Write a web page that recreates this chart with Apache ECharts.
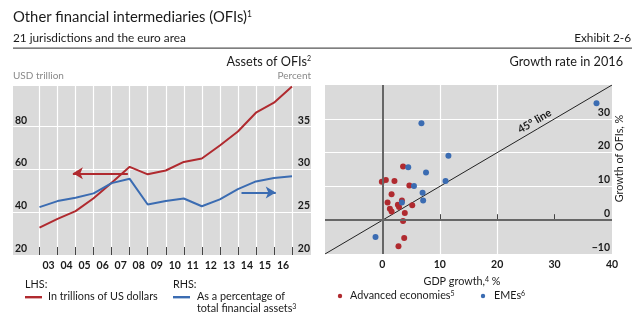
<!DOCTYPE html>
<html>
<head>
<meta charset="utf-8">
<script src="https://cdn.jsdelivr.net/npm/echarts@6/dist/echarts.min.js"></script>
<style>
  html, body { margin: 0; padding: 0; background: #fff; }
  #chart { width: 639px; height: 327px; }
</style>
</head>
<body>
<div id="chart"></div>
<script>
// Year-end observations 2002–2016; tick labels name the year between year-ends
const years = [2002, 2003, 2004, 2005, 2006, 2007, 2008, 2009, 2010, 2011, 2012, 2013, 2014, 2015, 2016];
const yearLabels = ['03', '04', '05', '06', '07', '08', '09', '10', '11', '12', '13', '14', '15', '16'];

// LHS: OFI assets, USD trillion
const ofiAssetsUsd = [32.8, 36.9, 40.5, 46.5, 53.8, 61.2, 57.7, 59.5, 63.5, 65.1, 71.2, 77.7, 86.5, 91.2, 98.8];
// RHS: OFI assets as a percentage of total financial assets
const ofiSharePct = [25.6, 26.3, 26.7, 27.2, 28.4, 28.9, 25.9, 26.3, 26.6, 25.7, 26.5, 27.7, 28.6, 29.0, 29.2];

// Growth rate in 2016: [GDP growth %, growth of OFIs %]
const advancedEconomies = [
  [3.6, 15.9], [-0.1, 11.4], [0.6, 11.9], [2.1, 11.6], [4.7, 10.3], [1.6, 7.7],
  [0.9, 5.2], [1.3, 3.4], [1.6, 2.6], [2.7, 4.6], [2.9, 3.9], [3.4, 5.8],
  [5.2, 4.4], [3.9, 2.1], [3.6, -0.2], [3.8, -5.3], [2.8, -7.7]
];
const emes = [
  [37.3, 34.6], [6.8, 28.7], [11.5, 19.1], [4.5, 15.7], [7.6, 14.1], [11.0, 11.6],
  [5.5, 10.1], [7.0, 8.1], [7.1, 5.8], [3.4, 5.2], [-1.2, -5.0]
];
// Reference line y = x across the plotted range
const line45 = [[-10, -10], [27, 27], [40, 40]];

// Arrow annotations pointing to the relevant axis
const lhsArrow = [[2006.9, 58.2], [2003.85, 58.2]];
const rhsArrow = [[2013.2, 27.3], [2015.1, 27.3]];

const RED = '#b02a2f';
const BLUE = '#3b6cb2';
const PANEL = '#dadada';
const FONT = 'Lato, "Open Sans", sans-serif';
const TXT = '#1a1a1a';
const BODY = '10.8px ' + FONT;

const chart = echarts.init(document.getElementById('chart'), null, { renderer: 'canvas' });

const numLabel = { color: TXT, fontFamily: FONT, fontSize: 10.5, fontWeight: 'bold' };
const sup = { fontSize: 7, verticalAlign: 'top', fontFamily: FONT, fill: TXT };

function txt(x, y, text, opts) {
  return {
    type: 'text', x: x, y: y, silent: true,
    style: Object.assign({ text: text, fill: TXT, font: BODY, textVerticalAlign: 'middle' }, opts || {})
  };
}

const leftTop = 86, panelH = 169;
const leftMax = 99, rightMax = 20 + 79 / 4;

const option = {
  animation: false,
  backgroundColor: '#fff',
  grid: [
    // panel background (full grey area incl. tick-label margins)
    { left: 13, top: leftTop, width: 298, height: panelH, show: true, backgroundColor: PANEL, borderWidth: 0 },
    // data area between first and last year-end
    { left: 39.5, top: leftTop, width: 252.5, height: panelH },
    // scatter panel
    { left: 325, top: 85, width: 287, height: 169, show: true, backgroundColor: PANEL, borderWidth: 0 }
  ],
  xAxis: [
    { gridIndex: 0, type: 'value', show: false, min: 0, max: 1 },
    {
      gridIndex: 1, type: 'category', data: yearLabels, boundaryGap: true, position: 'bottom',
      axisLine: { show: false },
      axisTick: { show: true, inside: true, length: 8, lineStyle: { color: '#444', width: 1 } },
      splitLine: { show: true, lineStyle: { color: '#fff', width: 1.2 } },
      axisLabel: Object.assign({ margin: 5, interval: 0 }, numLabel)
    },
    { gridIndex: 1, type: 'value', show: false, min: 2002, max: 2016 },
    {
      gridIndex: 2, type: 'value', min: -10, max: 40, interval: 10,
      axisLine: { show: false },
      axisTick: { show: true, inside: true, length: 6, lineStyle: { color: '#444' }, customValues: [0, 10, 20, 30] },
      splitLine: { show: true, showMinLine: false, showMaxLine: false, lineStyle: { color: '#fff', width: 1.2 } },
      axisLabel: Object.assign({ margin: 5, customValues: [0, 10, 20, 30, 40] }, numLabel)
    }
  ],
  yAxis: [
    {
      gridIndex: 0, type: 'value', position: 'left', min: 20, max: leftMax, interval: 20,
      axisLine: { show: false }, axisTick: { show: false },
      splitLine: { show: true, showMinLine: false, showMaxLine: false, lineStyle: { color: '#fff', width: 1.2 } },
      axisLabel: Object.assign({ inside: true, margin: 2, verticalAlign: 'bottom', lineHeight: 13,
        formatter: v => (v % 20 === 0 && v < 100) ? String(v) : '' }, numLabel)
    },
    {
      gridIndex: 0, type: 'value', position: 'right', min: 20, max: rightMax, interval: 5,
      axisLine: { show: false }, axisTick: { show: false }, splitLine: { show: false },
      axisLabel: Object.assign({ inside: true, margin: 1, verticalAlign: 'bottom', lineHeight: 13,
        formatter: v => (v % 5 === 0 && v < 40) ? String(v) : '' }, numLabel)
    },
    { gridIndex: 1, type: 'value', show: false, min: 20, max: leftMax },
    { gridIndex: 1, type: 'value', show: false, min: 20, max: rightMax },
    {
      gridIndex: 2, type: 'value', position: 'right', min: -10, max: 40, interval: 10,
      axisLine: { show: false }, axisTick: { show: false },
      splitLine: { show: true, showMinLine: false, showMaxLine: false, lineStyle: { color: '#fff', width: 1.2 } },
      axisLabel: Object.assign({ inside: true, margin: 2, verticalAlign: 'bottom', lineHeight: 13,
        formatter: v => (v < 40) ? String(v).replace('-', '\u2212') : '' }, numLabel),
      name: 'Growth of OFIs, %', nameLocation: 'middle', nameRotate: 90, nameGap: 1,
      nameTextStyle: { color: TXT, fontFamily: FONT, fontSize: 10.8, padding: [0, 0, 0, 22] }
    }
  ],
  series: [
    {
      type: 'line', xAxisIndex: 2, yAxisIndex: 2, symbol: 'none', z: 3,
      data: years.map((y, i) => [y, ofiAssetsUsd[i]]),
      lineStyle: { color: RED, width: 2 },
      markLine: {
        silent: true, symbol: ['none', 'arrow'], symbolSize: [9, 10], label: { show: false },
        lineStyle: { color: RED, width: 2, type: 'solid' },
        data: [[{ coord: lhsArrow[0] }, { coord: lhsArrow[1] }]]
      }
    },
    {
      type: 'line', xAxisIndex: 2, yAxisIndex: 3, symbol: 'none', z: 3,
      data: years.map((y, i) => [y, ofiSharePct[i]]),
      lineStyle: { color: BLUE, width: 2 },
      markLine: {
        silent: true, symbol: ['none', 'arrow'], symbolSize: [9, 10], label: { show: false },
        lineStyle: { color: BLUE, width: 2, type: 'solid' },
        data: [[{ coord: rhsArrow[0] }, { coord: rhsArrow[1] }]]
      }
    },
    {
      type: 'line', xAxisIndex: 3, yAxisIndex: 4, symbol: 'none', z: 2,
      data: line45,
      lineStyle: { color: '#222', width: 1 },
      label: { show: false },
      markLine: {
        silent: true, symbol: 'none', label: { show: false },
        lineStyle: { color: '#666', width: 2, type: 'solid' },
        data: [{ xAxis: 0 }, { yAxis: 0 }]
      },
      markPoint: {
        silent: true, symbol: 'circle', symbolSize: 0,
        label: {
          show: true, position: 'top', distance: 3, rotate: 30.5,
          formatter: '45° line', color: TXT, fontFamily: FONT, fontSize: 10.8, fontWeight: 'bold'
        },
        data: [{ coord: line45[1] }]
      }
    },
    {
      type: 'scatter', xAxisIndex: 3, yAxisIndex: 4, symbolSize: 6, z: 4,
      data: advancedEconomies, itemStyle: { color: RED, opacity: 1 }
    },
    {
      type: 'scatter', xAxisIndex: 3, yAxisIndex: 4, symbolSize: 6, z: 4,
      data: emes, itemStyle: { color: BLUE, opacity: 1 }
    }
  ],
  graphic: [
    txt(13, 17, 'Other financial intermediaries (OFIs){s|1}', {
      font: '14.8px ' + FONT, rich: { s: Object.assign({}, sup, { fontSize: 8.5 }) }
    }),
    txt(13, 38, '21 jurisdictions and the euro area', { font: '11.8px ' + FONT }),
    txt(631, 38, 'Exhibit 2-6', { font: '11.8px ' + FONT, textAlign: 'right' }),
    { type: 'rect', silent: true, shape: { x: 13, y: 47.5, width: 619, height: 1.2 }, style: { fill: '#555' } },
    txt(311, 62, 'Assets of OFIs{s|2}', { font: '12.7px ' + FONT, textAlign: 'right', rich: { s: sup } }),
    txt(623, 62, 'Growth rate in 2016', { font: '12.7px ' + FONT, textAlign: 'right' }),
    txt(13, 76, 'USD trillion', { font: '10px ' + FONT, fill: '#8a8a8a' }),
    txt(311, 76, 'Percent', { font: '10px ' + FONT, fill: '#8a8a8a', textAlign: 'right' }),

    // legend, left panel
    txt(25, 285, 'LHS:'),
    { type: 'rect', silent: true, shape: { x: 25, y: 296, width: 17, height: 2.4 }, style: { fill: RED } },
    txt(48, 297, 'In trillions of US dollars'),
    txt(173, 285, 'RHS:'),
    { type: 'rect', silent: true, shape: { x: 173, y: 296, width: 17, height: 2.4 }, style: { fill: BLUE } },
    txt(197, 297, 'As a percentage of'),
    txt(197, 309, 'total financial assets{s|3}', { rich: { s: sup } }),

    // legend, right panel
    txt(462, 282, 'GDP growth,{s|4} %', { textAlign: 'center', rich: { s: sup } }),
    { type: 'circle', silent: true, shape: { cx: 340, cy: 296, r: 2.2 }, style: { fill: RED } },
    txt(350, 296, 'Advanced economies{s|5}', { rich: { s: sup } }),
    { type: 'circle', silent: true, shape: { cx: 483, cy: 296, r: 2.2 }, style: { fill: BLUE } },
    txt(494, 296, 'EMEs{s|6}', { rich: { s: sup } })
  ]
};

chart.setOption(option);
</script>
</body>
</html>
